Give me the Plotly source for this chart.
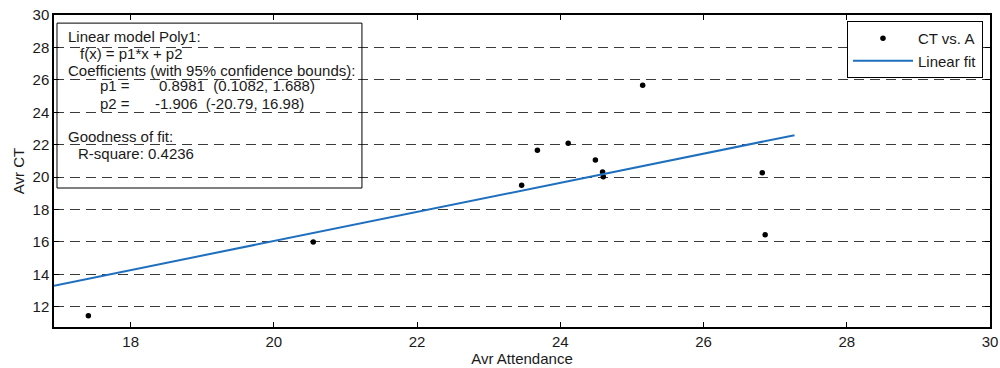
import plotly.graph_objects as go

# Observations: average attendance vs average CT
attendance = [17.41, 20.55, 23.46, 23.68, 24.11, 24.49, 24.59, 24.60, 25.15, 26.82, 26.86]
avr_ct = [11.45, 16.00, 19.49, 21.66, 22.09, 21.06, 20.31, 20.02, 25.66, 20.26, 16.44]

# Linear fit f(x) = p1*x + p2
p1 = 0.8981
p2 = -1.906
fit_x = [16.93, 27.27]
fit_y = [p1 * x + p2 for x in fit_x]

x_ticks = [18, 20, 22, 24, 26, 28, 30]
y_ticks = [12, 14, 16, 18, 20, 22, 24, 26, 28, 30]

font_family = "Liberation Sans, Arial, sans-serif"
text_color = "#1a1a1a"

fig = go.Figure()
fig.add_trace(go.Scatter(
    x=attendance, y=avr_ct, mode="markers", name="CT vs. A",
    marker=dict(color="black", size=5.5),
))
fig.add_trace(go.Scatter(
    x=fit_x, y=fit_y, mode="lines", name="Linear fit",
    line=dict(color="#1f6fbf", width=2),
))

axis_common = dict(
    showline=True, linecolor="black", linewidth=1.5, mirror="ticks",
    ticks="inside", ticklen=5, tickcolor="black", tickwidth=1,
    zeroline=False, automargin=False,
    tickfont=dict(family=font_family, size=15, color=text_color),
)

fig.update_xaxes(
    range=[16.93, 30], tickvals=x_ticks, showgrid=False,
    title=dict(text="Avr Attendance", font=dict(family=font_family, size=15, color=text_color), standoff=2),
    **axis_common,
)
fig.update_yaxes(
    range=[10.75, 30], tickvals=y_ticks, showgrid=True,
    gridcolor="#3a3a3a", griddash="10px,6px", gridwidth=1,
    title=dict(text="Avr CT", font=dict(family=font_family, size=15, color=text_color), standoff=4),
    **axis_common,
)

# Fit summary box
fig.add_shape(type="rect", xref="paper", yref="paper",
              x0=0.0032, x1=0.329, y0=0.4455, y1=0.974,
              line=dict(color="black", width=1), fillcolor="rgba(0,0,0,0)")

summary_lines = [
    ("Linear model Poly1:", 66, 37),
    ("f(x) = p1*x + p2", 78, 53),
    ("Coefficients (with 95% confidence bounds):", 66, 70),
    ("p1 =", 98, 86),
    ("0.8981  (0.1082, 1.688)", 157, 86),
    ("p2 =", 98, 103),
    ("-1.906  (-20.79, 16.98)", 153, 103),
    ("Goodness of fit:", 66, 136),
    ("R-square: 0.4236", 76, 153),
]
for text, px, py in summary_lines:
    fig.add_annotation(
        text=text, xref="paper", yref="paper",
        x=(px - 54) / 936, y=1 - (py - 15) / 312,
        xanchor="left", yanchor="middle", showarrow=False,
        font=dict(family=font_family, size=15, color=text_color),
    )

fig.update_layout(
    width=1000, height=368,
    margin=dict(l=54, r=10, t=15, b=41),
    paper_bgcolor="white", plot_bgcolor="white",
    showlegend=True,
    legend=dict(
        x=0.9925, y=0.981, xanchor="right", yanchor="top",
        bordercolor="black", borderwidth=1, bgcolor="white",
        font=dict(family=font_family, size=15, color=text_color),
        itemwidth=60, tracegroupgap=2,
    ),
)

fig.write_html("out.html")
